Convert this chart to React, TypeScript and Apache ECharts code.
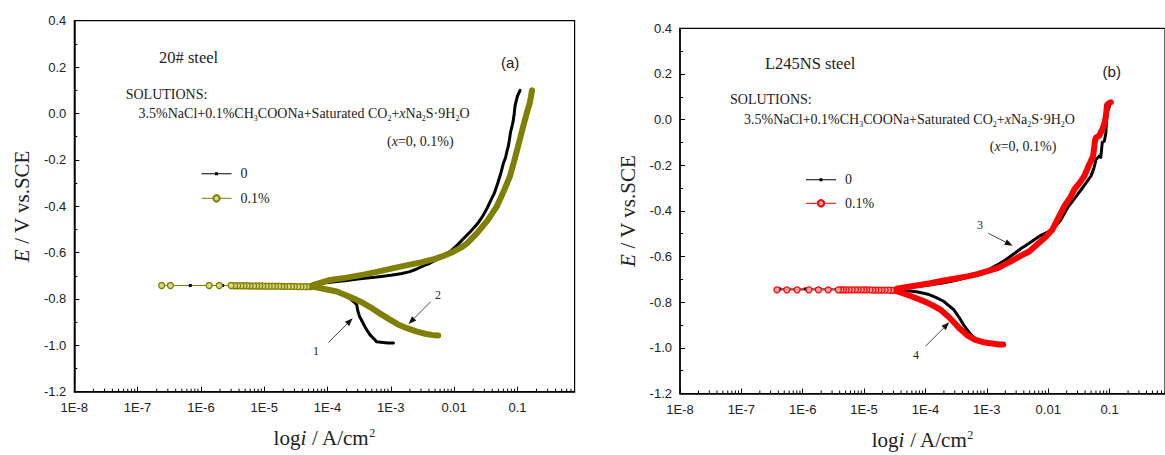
import React, { useEffect, useRef } from 'react';
import * as echarts from 'echarts';

// ---------- tick labels ----------
const xTickLabels = ['1E-8', '1E-7', '1E-6', '1E-5', '1E-4', '1E-3', '0.01', '0.1'];
const decadeStarts = [1e-8, 1e-7, 1e-6, 1e-5, 1e-4, 1e-3, 1e-2, 1e-1];
const minorMultipliers = [2, 3, 4, 5, 6, 7, 8, 9];
const X_MIN = 1e-8;
const X_MAX = 0.8;
const Y_MIN = -1.2;
const Y_MAX = 0.4;

// ---------- panel (a): 20# steel ----------
const aBlackTailI = [5.4e-5, 4.8e-5, 4.3e-5, 3.8e-5, 3.4e-5, 3e-5, 2.7e-5, 2.4e-5, 2.1e-5, 1.9e-5, 1.7e-5, 1.5e-5, 1.35e-5, 1.2e-5, 1.07e-5, 9.5e-6, 8.5e-6, 7.6e-6, 6.8e-6, 6e-6, 5.4e-6, 4.8e-6, 4.3e-6, 3.8e-6, 3.4e-6, 3e-6, 2.2e-6, 1.4e-6, 6.8e-7];
const aBlackTailE = [-0.746, -0.746, -0.746, -0.745, -0.745, -0.745, -0.745, -0.744, -0.744, -0.744, -0.744, -0.744, -0.743, -0.743, -0.743, -0.743, -0.743, -0.743, -0.743, -0.742, -0.742, -0.742, -0.742, -0.742, -0.742, -0.742, -0.742, -0.742, -0.742];
const aBlackI = [
  1.1e-3, 9e-4, 7.5e-4, 6e-4, 5.4e-4, 4.7e-4, 4.2e-4, 3.9e-4, 3.5e-4, 3.2e-4, 3.0e-4, 2.9e-4, 2.6e-4, 2.3e-4, 1.8e-4, 1.4e-4, 1.1e-4, 8e-5, 6.5e-5, 5.8e-5,
  5.8e-5, 8e-5, 1.2e-4, 2e-4, 3e-4, 5e-4, 7e-4, 1e-3, 1.5e-3, 2e-3, 2.5e-3, 3.2e-3, 4.2e-3, 5.5e-3, 7e-3, 9e-3, 1.1e-2, 1.4e-2, 1.8e-2, 2.3e-2,
  2.8e-2, 3.3e-2, 3.8e-2, 4.3e-2, 4.9e-2, 5.5e-2, 6.0e-2, 6.5e-2, 6.8e-2, 7.2e-2, 7.4e-2, 7.8e-2, 8.3e-2, 8.6e-2, 8.9e-2, 9.2e-2, 9.6e-2, 0.1, 0.11,
];
const aBlackE = [
  -0.99, -0.99, -0.988, -0.985, -0.972, -0.955, -0.935, -0.92, -0.895, -0.875, -0.85, -0.825, -0.812, -0.8, -0.785, -0.772, -0.764, -0.756, -0.751, -0.748,
  -0.739, -0.732, -0.727, -0.72, -0.714, -0.708, -0.703, -0.698, -0.69, -0.682, -0.672, -0.658, -0.645, -0.628, -0.61, -0.592, -0.57, -0.54, -0.51, -0.478,
  -0.445, -0.41, -0.375, -0.345, -0.3, -0.255, -0.215, -0.19, -0.165, -0.14, -0.12, -0.08, -0.05, -0.03, 0.0, 0.035, 0.055, 0.075, 0.1,
];
const aOliveTailI = [5.4e-5, 4.8e-5, 4.3e-5, 3.8e-5, 3.4e-5, 3e-5, 2.7e-5, 2.4e-5, 2.1e-5, 1.9e-5, 1.7e-5, 1.5e-5, 1.35e-5, 1.2e-5, 1.07e-5, 9.5e-6, 8.5e-6, 7.6e-6, 6.8e-6, 6e-6, 5.4e-6, 4.8e-6, 4.3e-6, 3.8e-6, 3.4e-6, 3e-6, 1.95e-6, 1.35e-6, 3.3e-7, 2.4e-7];
const aOliveTailE = [-0.747, -0.747, -0.747, -0.747, -0.747, -0.746, -0.746, -0.746, -0.746, -0.746, -0.745, -0.745, -0.745, -0.745, -0.745, -0.744, -0.744, -0.744, -0.744, -0.744, -0.743, -0.743, -0.743, -0.743, -0.743, -0.742, -0.742, -0.742, -0.742, -0.742];
const aOliveI = [
  5.6e-3, 5e-3, 4.4e-3, 3.5e-3, 2.5e-3, 1.8e-3, 1.3e-3, 9.1e-4, 6.5e-4, 4.7e-4, 3.5e-4, 2.9e-4, 2.0e-4, 1.4e-4, 9e-5, 7e-5, 5.8e-5,
  5.8e-5, 1.1e-4, 2e-4, 3.7e-4, 6e-4, 1.2e-3, 2e-3, 3e-3, 3.7e-3, 5e-3, 7e-3, 9.8e-3, 1.3e-2, 1.6e-2, 2.3e-2, 3.4e-2, 4.7e-2, 6.2e-2,
  7.6e-2, 9e-2, 0.102, 0.112, 0.125, 0.14, 0.155, 0.163, 0.17,
];
const aOliveE = [
  -0.958, -0.957, -0.955, -0.95, -0.94, -0.926, -0.91, -0.885, -0.86, -0.835, -0.815, -0.804, -0.785, -0.768, -0.757, -0.751, -0.748,
  -0.74, -0.718, -0.708, -0.695, -0.683, -0.665, -0.652, -0.642, -0.636, -0.627, -0.613, -0.596, -0.578, -0.56, -0.516, -0.46, -0.402, -0.33,
  -0.272, -0.2, -0.143, -0.1, -0.05, 0.0, 0.04, 0.07, 0.1,
];

// ---------- panel (b): L245NS steel ----------
const bBlackTailI = [4e-5, 3.5e-5, 3.1e-5, 2.7e-5, 2.4e-5, 2.1e-5, 1.85e-5, 1.65e-5, 1.45e-5, 1.3e-5, 1.15e-5, 1e-5, 8.8e-6, 7.8e-6, 6.9e-6, 6e-6, 5.3e-6, 4.6e-6, 4e-6, 2.6e-6, 1.7e-6, 1.1e-6, 8e-7, 5.6e-7, 4.2e-7];
const bBlackTailE = [-0.745, -0.745, -0.745, -0.744, -0.744, -0.744, -0.744, -0.744, -0.743, -0.743, -0.743, -0.743, -0.743, -0.743, -0.743, -0.742, -0.742, -0.742, -0.742, -0.742, -0.742, -0.742, -0.742, -0.742, -0.742];
const bBlackI = [
  1.07e-3, 9.5e-4, 8.1e-4, 6.5e-4, 5.5e-4, 4.6e-4, 4.2e-4, 3.6e-4, 3.3e-4, 3.1e-4, 2.9e-4, 2.4e-4, 2.0e-4, 1.5e-4, 1.1e-4, 7.5e-5, 5.2e-5, 4e-5,
  4e-5, 6e-5, 1e-4, 2e-4, 3e-4, 5e-4, 7.5e-4, 1e-3, 1.4e-3, 2e-3, 2.7e-3, 3.6e-3, 4.7e-3, 6e-3, 7.5e-3, 1e-2, 1.3e-2, 1.6e-2,
  2.1e-2, 2.7e-2, 3.5e-2, 4.2e-2, 5e-2, 5.6e-2, 6e-2, 6.8e-2, 7.2e-2, 7.6e-2, 8.2e-2, 8.7e-2, 8.9e-2, 9.1e-2, 9.7e-2, 0.102, 0.105,
];
const bBlackE = [
  -0.982, -0.98, -0.974, -0.96, -0.942, -0.915, -0.9, -0.87, -0.855, -0.845, -0.833, -0.815, -0.797, -0.78, -0.765, -0.755, -0.75, -0.746,
  -0.74, -0.733, -0.727, -0.715, -0.705, -0.69, -0.678, -0.662, -0.64, -0.615, -0.59, -0.565, -0.545, -0.525, -0.508, -0.492, -0.468, -0.44,
  -0.383, -0.345, -0.304, -0.275, -0.246, -0.21, -0.175, -0.16, -0.165, -0.1, -0.095, -0.06, -0.01, 0.03, 0.05, 0.07, 0.076,
];
const bRedTailI = [3.2e-5, 2.8e-5, 2.5e-5, 2.2e-5, 1.95e-5, 1.75e-5, 1.55e-5, 1.4e-5, 1.25e-5, 1.1e-5, 1e-5, 9e-6, 8e-6, 7.2e-6, 6.4e-6, 5.7e-6, 5.1e-6, 4.6e-6, 4.2e-6, 3.8e-6, 2.6e-6, 1.8e-6, 1.26e-6, 8.1e-7, 5.5e-7, 3.8e-7];
const bRedTailE = [-0.748, -0.748, -0.747, -0.747, -0.747, -0.747, -0.747, -0.747, -0.746, -0.746, -0.746, -0.746, -0.746, -0.746, -0.746, -0.746, -0.746, -0.746, -0.746, -0.746, -0.746, -0.746, -0.746, -0.746, -0.746, -0.746];
const bRedI = [
  1.85e-3, 1.6e-3, 1.3e-3, 9.3e-4, 6.5e-4, 4.8e-4, 3.6e-4, 2.9e-4, 2.4e-4, 1.8e-4, 1.4e-4, 1.1e-4, 8e-5, 6e-5, 4.5e-5, 3.4e-5,
  3.4e-5, 6e-5, 1.2e-4, 2e-4, 3.3e-4, 4.8e-4, 7e-4, 9.3e-4, 1.45e-3, 1.8e-3, 2.5e-3, 3.6e-3, 4.9e-3, 7.1e-3, 9e-3, 1.15e-2,
  1.4e-2, 1.86e-2, 2.3e-2, 2.7e-2, 3.3e-2, 3.9e-2, 4.6e-2, 5.4e-2, 5.8e-2, 6e-2, 6.8e-2, 7.6e-2, 8.2e-2, 8.7e-2, 9.1e-2, 0.1, 0.105,
];
const bRedE = [
  -0.985, -0.985, -0.982, -0.977, -0.965, -0.945, -0.915, -0.888, -0.865, -0.835, -0.818, -0.804, -0.788, -0.775, -0.763, -0.752,
  -0.741, -0.73, -0.717, -0.705, -0.695, -0.687, -0.677, -0.667, -0.652, -0.64, -0.62, -0.596, -0.578, -0.54, -0.515, -0.485,
  -0.44, -0.376, -0.34, -0.304, -0.275, -0.246, -0.2, -0.159, -0.09, -0.079, -0.07, -0.043, -0.02, 0.015, 0.065, 0.074, 0.076,
];

const legendLabels: Record<string, string> = { a0: '0', a1: '0.1%', b0: '0', b1: '0.1%' };

const OLIVE = '#808000';
const RED = '#ff0000';
const SERIF = '"Liberation Serif", "Times New Roman", serif';
const SANS = '"Liberation Sans", Arial, sans-serif';
const TXT = '#222';

const pairs = (xs: number[], ys: number[]) => xs.map((x, i) => [x, ys[i]]);

const minorTickValues: number[] = [];
decadeStarts.forEach((d) => minorMultipliers.forEach((m) => { if (d * m < X_MAX) minorTickValues.push(d * m); }));

const BLACK_ICON = 'path://M0,4.5L13.5,4.5L13.5,3.5L16.5,3.5L16.5,4.5L30,4.5L30,5.5L16.5,5.5L16.5,6.5L13.5,6.5L13.5,5.5L0,5.5Z';

function xAxisFor(gridIndex: number) {
  return {
    type: 'log', logBase: 10, gridIndex, min: X_MIN, max: X_MAX, splitNumber: 8,
    name: 'log{i|i} / A/cm{sup|2}', nameLocation: 'middle', nameGap: 35,
    nameTextStyle: {
      fontFamily: SERIF, fontSize: 21, color: TXT,
      rich: {
        i: { fontFamily: SERIF, fontSize: 21, fontStyle: 'italic', color: TXT },
        sup: { fontFamily: SERIF, fontSize: 12, verticalAlign: 'top', color: TXT, lineHeight: 22 },
      },
    },
    axisLine: { show: true, onZero: false, lineStyle: { color: '#000', width: 1.5 } },
    axisTick: { show: true, inside: true, length: 5, lineStyle: { color: '#000', width: 1 } },
    axisLabel: {
      margin: 9, fontFamily: SANS, fontSize: 13, color: TXT, showMaxLabel: false,
      formatter: (v: number) => { const k = Math.round(Math.log10(v)) + 8; return xTickLabels[k] ?? ''; },
    },
    splitLine: { show: false },
  };
}

function yAxisFor(gridIndex: number) {
  return {
    type: 'value', gridIndex, min: Y_MIN, max: Y_MAX, interval: 0.2,
    name: '{i|E} / V vs.SCE', nameLocation: 'middle', nameGap: 42,
    nameTextStyle: {
      fontFamily: SERIF, fontSize: 21, color: TXT,
      rich: { i: { fontFamily: SERIF, fontSize: 21, fontStyle: 'italic', color: TXT } },
    },
    axisLine: { show: true, onZero: false, lineStyle: { color: '#000', width: 1.5 } },
    axisTick: { show: true, inside: true, length: 5, lineStyle: { color: '#000', width: 1 } },
    minorTick: { show: true, splitNumber: 2, length: 3, lineStyle: { color: '#000', width: 1 } },
    axisLabel: {
      margin: 8, fontFamily: SANS, fontSize: 13, color: TXT,
      formatter: (v: number) => (Math.abs(v) < 1e-9 ? 0 : v).toFixed(1),
    },
    splitLine: { show: false },
  };
}

function tailSeries(name: string, idx: number, xs: number[], ys: number[], color: string, fill: string, symbol: string, size: number) {
  return {
    type: 'line', name, xAxisIndex: idx, yAxisIndex: idx, data: pairs(xs, ys),
    symbol, symbolSize: size, showSymbol: true,
    lineStyle: { color, width: 1 },
    itemStyle: { color: fill, borderColor: color, borderWidth: symbol === 'circle' ? 1.3 : 0 },
    silent: true, z: 3,
  };
}

function mainSeries(name: string, idx: number, xs: number[], ys: number[], color: string, width: number, z: number) {
  return {
    type: 'line', name, xAxisIndex: idx, yAxisIndex: idx, data: pairs(xs, ys),
    symbol: 'none', showSymbol: false,
    lineStyle: { color, width, cap: 'round', join: 'round' },
    itemStyle: { color },
    silent: true, z,
  };
}

function minorTickSeries(idx: number) {
  return {
    type: 'custom', xAxisIndex: idx, yAxisIndex: idx, silent: true, z: 10,
    data: minorTickValues.map((v) => [v, Y_MIN]),
    renderItem: (_p: any, api: any) => {
      const pt = api.coord([api.value(0), api.value(1)]);
      return { type: 'line', shape: { x1: pt[0], y1: pt[1], x2: pt[0], y2: pt[1] - 3 }, style: { stroke: '#000', lineWidth: 1 } };
    },
  };
}

function arrow(x1: number, y1: number, x2: number, y2: number) {
  const dx = x2 - x1, dy = y2 - y1;
  const len = Math.sqrt(dx * dx + dy * dy);
  const ux = dx / len, uy = dy / len;
  const hl = 8, hw = 3;
  const bx = x2 - ux * hl, by = y2 - uy * hl;
  return [
    { type: 'line', shape: { x1, y1, x2: bx, y2: by }, style: { stroke: '#333', lineWidth: 0.9 }, silent: true },
    { type: 'polygon', shape: { points: [[x2, y2], [bx - uy * hw, by + ux * hw], [bx + uy * hw, by - ux * hw]] }, style: { fill: '#111' }, silent: true },
  ];
}

function txt(x: number, y: number, text: string, font: string, size: number, extra: any = {}) {
  return {
    type: 'text', x, y, silent: true,
    style: { text, fontFamily: font, fontSize: size, fill: TXT, verticalAlign: 'middle', align: 'left', ...extra },
  };
}

const formulaRich = {
  sub: { fontFamily: SERIF, fontSize: 8, verticalAlign: 'bottom', lineHeight: 18, fill: TXT },
  it: { fontFamily: SERIF, fontSize: 14, fontStyle: 'italic', lineHeight: 18, fill: TXT },
};
const FORMULA = '3.5%NaCl+0.1%CH{sub|3}COONa+Saturated CO{sub|2}+{it|x}Na{sub|2}S·9H{sub|2}O';
const XNOTE = '({it|x}=0, 0.1%)';

export default function App() {
  const ref = useRef<HTMLDivElement>(null);
  useEffect(() => {
    if (!ref.current) return;
    const chart = echarts.init(ref.current, undefined, { renderer: 'svg' });
    const legendCommon = {
      orient: 'vertical', itemWidth: 30, itemHeight: 8, selectedMode: false,
      formatter: (n: string) => legendLabels[n],
      textStyle: { fontFamily: SERIF, fontSize: 14, color: TXT, padding: [0, 0, 0, 4] },
      lineStyle: { width: 1 },
    };
    chart.setOption({
      animation: false,
      backgroundColor: '#fff',
      grid: [
        { left: 74.3, top: 20.7, width: 500.3, height: 371, show: true, borderColor: '#000', borderWidth: 1.2 },
        { left: 680, top: 28.3, width: 495.5, height: 367.7, show: true, borderColor: '#000', borderWidth: 1.2 },
      ],
      xAxis: [xAxisFor(0), xAxisFor(1)],
      yAxis: [yAxisFor(0), yAxisFor(1)],
      legend: [
        { ...legendCommon, left: 196, top: 161.7, itemGap: 10.6, data: [{ name: 'a0', icon: BLACK_ICON }, { name: 'a1' }] },
        { ...legendCommon, left: 800.5, top: 167.7, itemGap: 9.6, data: [{ name: 'b0', icon: BLACK_ICON }, { name: 'b1' }] },
      ],
      series: [
        tailSeries('a0', 0, aBlackTailI, aBlackTailE, '#000', '#000', 'rect', 3),
        mainSeries('a0', 0, aBlackI, aBlackE, '#000', 3, 2),
        tailSeries('a1', 0, aOliveTailI, aOliveTailE, OLIVE, '#d6d68c', 'circle', 6),
        mainSeries('a1', 0, aOliveI, aOliveE, OLIVE, 6, 4),
        tailSeries('b0', 1, bBlackTailI, bBlackTailE, '#000', '#000', 'rect', 3),
        mainSeries('b0', 1, bBlackI, bBlackE, '#000', 3, 2),
        tailSeries('b1', 1, bRedTailI, bRedTailE, RED, '#ffa0a0', 'circle', 6),
        mainSeries('b1', 1, bRedI, bRedE, RED, 6, 4),
        minorTickSeries(0),
        minorTickSeries(1),
      ],
      graphic: [
        txt(159, 57, '20# steel', SERIF, 16.5),
        txt(501, 62, '(a)', SANS, 15),
        txt(125.7, 94, 'SOLUTIONS:', SERIF, 14),
        txt(138.6, 113, FORMULA, SERIF, 14, { rich: formulaRich, lineHeight: 18 }),
        txt(387, 141.7, XNOTE, SERIF, 14, { rich: formulaRich, lineHeight: 18 }),
        txt(313, 351, '1', SERIF, 12),
        txt(435, 295, '2', SERIF, 12),
        ...arrow(328.3, 342.7, 352.7, 318.3),
        ...arrow(430.7, 301.7, 408.5, 324),
        txt(765, 63.3, 'L245NS steel', SERIF, 16.5),
        txt(1102.6, 71.7, '(b)', SANS, 15),
        txt(730, 99.3, 'SOLUTIONS:', SERIF, 14),
        txt(744, 119, FORMULA, SERIF, 14, { rich: formulaRich, lineHeight: 18 }),
        txt(989.8, 146.7, XNOTE, SERIF, 14, { rich: formulaRich, lineHeight: 18 }),
        txt(977, 225, '3', SERIF, 12),
        txt(913, 355, '4', SERIF, 12),
        ...arrow(988.3, 233.3, 1012.7, 245.7),
        ...arrow(925.7, 346, 949.3, 322.3),
      ],
    });
    return () => chart.dispose();
  }, []);
  return (
    <div
      ref={ref}
      style={{ position: 'absolute', left: 0, top: 0, width: 1165, height: 455, overflow: 'hidden', background: '#fff' }}
    />
  );
}
